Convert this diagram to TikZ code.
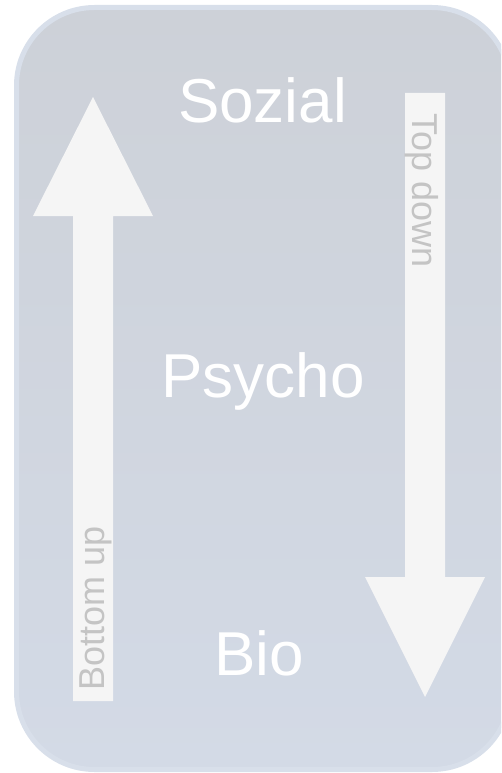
\documentclass[tikz,border=0pt]{standalone}
\usepackage{fontspec}
\setmainfont{Liberation Sans}
\definecolor{bgtop}{HTML}{CDD1D8}
\definecolor{bgmid}{HTML}{DFE5E3}
\definecolor{bgbot}{HTML}{D3DAE6}
\definecolor{rim}{HTML}{D8DFEA}
\definecolor{arrowfill}{HTML}{F5F5F5}
\definecolor{arrowtext}{HTML}{C4C4C4}
\begin{document}
\begin{tikzpicture}[x=1pt,y=-1pt,
  biglabel/.style={font=\fontsize{62}{62}\selectfont, text=white, anchor=base, inner sep=0pt},
  arrowlabel/.style={font=\fontsize{36}{36}\selectfont, text=arrowtext, anchor=base west, inner sep=0pt},
  bigarrow/.style={fill=arrowfill, draw=none}]
\useasboundingbox (0,0) rectangle (501,773);
\clip (0,0) rectangle (501,773);
% panel
\draw[rim, line width=5pt, top color=bgtop, middle color=bgmid, bottom color=bgbot, rounded corners=78pt]
  (16.5,7.5) rectangle (510,769.5);
% up arrow (left)
\path[bigarrow] (93,97) -- (153,216) -- (113,216) -- (113,701) -- (73,701) -- (73,216) -- (33,216) -- cycle;
% down arrow (right)
\path[bigarrow] (405,93) -- (445,93) -- (445,577) -- (485,577) -- (425,697) -- (365,577) -- (405,577) -- cycle;
% labels
\node[biglabel] (soz) at (262.5,122) {Sozial};
\node[biglabel] (psy) at (263,397) {Psycho};
\node[biglabel] (bio) at (259,675) {Bio};
\node[arrowlabel, rotate=-90] (td) at (412,113) {Top down};
\node[arrowlabel, rotate=90] (bu) at (104,691) {Bottom up};
\end{tikzpicture}
\end{document}
